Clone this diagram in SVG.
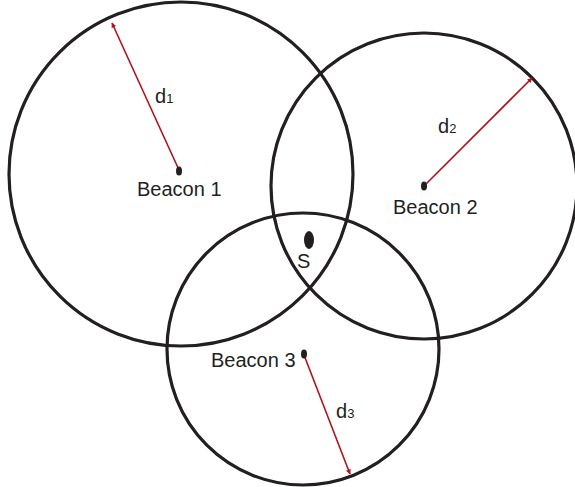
<svg xmlns="http://www.w3.org/2000/svg" width="575" height="487" viewBox="0 0 575 487">
<defs>
<marker id="ah" viewBox="0 0 10 10" refX="9" refY="5" markerWidth="6" markerHeight="5" orient="auto" markerUnits="userSpaceOnUse">
<path d="M0,0 L10,5 L0,10 z" fill="#b0121e"/>
</marker>
<style>
.ring{fill:none;stroke:#231f20;stroke-width:3.2}
.ray{stroke:#b0121e;stroke-width:1.6;fill:none;marker-end:url(#ah)}
.dot{fill:#231f20}
text{font-family:"Liberation Sans",Arial,sans-serif;fill:#231f20}
.lbl{font-size:20px}
.sub{font-size:13px}
</style>
</defs>
<rect width="575" height="487" fill="#ffffff"/>
<g id="circle1"><circle class="ring" cx="181" cy="174" r="172"/></g>
<g id="circle2"><circle class="ring" cx="424" cy="186" r="153"/></g>
<g id="circle3"><circle class="ring" cx="303" cy="349" r="136"/></g>
<g id="connectors">
<line class="ray" x1="179" y1="170" x2="112" y2="23"/>
<line class="ray" x1="424" y1="186" x2="532" y2="78"/>
<line class="ray" x1="304" y1="355" x2="350" y2="474"/>
</g>
<g id="beacon1">
<ellipse class="dot" cx="179" cy="171" rx="3" ry="4.5"/>
<text class="lbl" x="137" y="196">Beacon 1</text>
<text x="155" y="103"><tspan class="lbl">d</tspan><tspan class="sub">1</tspan></text>
</g>
<g id="beacon2">
<ellipse class="dot" cx="424" cy="186" rx="3" ry="4.5"/>
<text class="lbl" x="393" y="214">Beacon 2</text>
<text x="438" y="133"><tspan class="lbl">d</tspan><tspan class="sub">2</tspan></text>
</g>
<g id="beacon3">
<ellipse class="dot" cx="304" cy="354" rx="3" ry="4.5"/>
<text class="lbl" x="211" y="367">Beacon 3</text>
<text x="336" y="418"><tspan class="lbl">d</tspan><tspan class="sub">3</tspan></text>
</g>
<g id="s">
<ellipse class="dot" cx="309" cy="240" rx="5" ry="9"/>
<text class="lbl" x="297" y="268">S</text>
</g>
</svg>
